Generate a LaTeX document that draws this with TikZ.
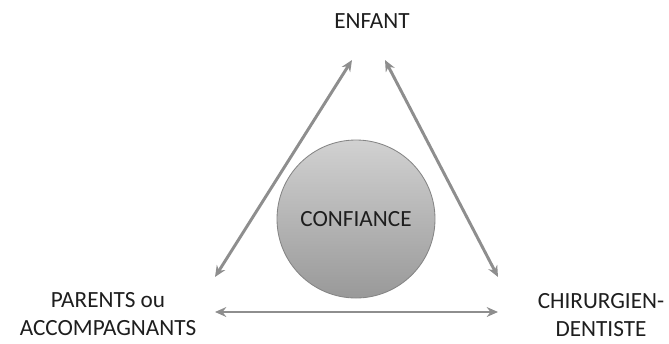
\documentclass[tikz,border=0pt]{standalone}
\usepackage{fontspec}
\usetikzlibrary{arrows.meta}
\setmainfont{Carlito}
\definecolor{flechegris}{HTML}{8E8E8E}
\definecolor{textegris}{HTML}{1E1E1E}
\definecolor{bordgris}{HTML}{858585}
\tikzset{
  acteur/.style={align=center, text=textegris, font=\fontsize{16.5}{20}\selectfont},
  fleche/.style={flechegris, line width=2.1pt, {Stealth[length=8pt,width=7pt]}-{Stealth[length=8pt,width=7pt]}}
}
\begin{document}
\begin{tikzpicture}[x=0.025cm, y=-0.025cm]
\useasboundingbox (0,0) rectangle (669,343);

% Acteurs
\node[acteur] (enfant) at (372,21) {ENFANT};
\node[acteur] (parents) at (108,314) {PARENTS ou\\ACCOMPAGNANTS};
\node[acteur] (dentiste) at (601,315) {CHIRURGIEN-\\DENTISTE};

% Cercle central
\node[circle, minimum size=158*0.025cm, draw=bordgris, line width=0.6pt,
      top color=gray!36, bottom color=gray!80, acteur] (confiance) at (356,219) {CONFIANCE};

% Extremites des fleches
\coordinate (eG) at (352,60);
\coordinate (eD) at (385,60);
\coordinate (pH) at (215,277);
\coordinate (pB) at (215,312);
\coordinate (dH) at (498,277);
\coordinate (dB) at (498,312);

% Fleches
\draw[fleche] (eG) -- (pH);
\draw[fleche] (eD) -- (dH);
\draw[fleche] (pB) -- (dB);

\end{tikzpicture}
\end{document}
